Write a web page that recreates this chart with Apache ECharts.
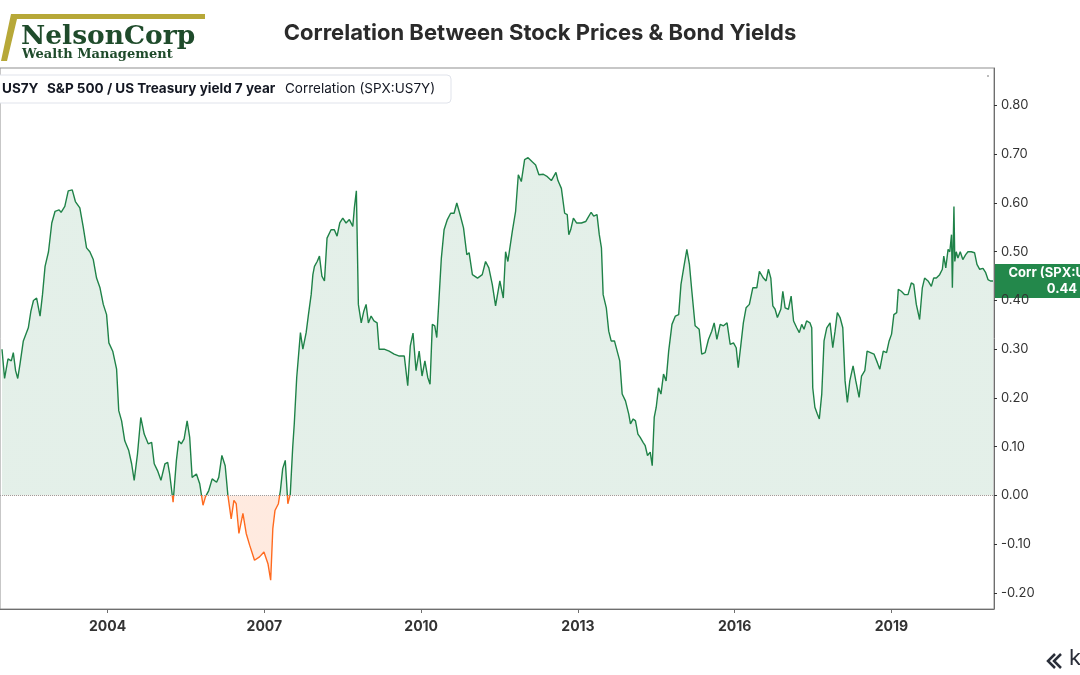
<!DOCTYPE html>
<html><head><meta charset="utf-8">
<script src="https://cdn.jsdelivr.net/npm/echarts@6/dist/echarts.min.js"></script>
<style>html,body{margin:0;padding:0;background:#fff}#c{width:1080px;height:675px}</style>
</head><body><div id="c"></div>
<script>
const chartTitle = 'Correlation Between Stock Prices & Bond Yields';
const legendSymbol = 'US7Y';
const legendName = 'S&P 500 / US Treasury yield 7 year';
const legendStudy = 'Correlation (SPX:US7Y)';
const endLabelName = 'Corr (SPX:US7Y)';
const xTickYears = [2004, 2007, 2010, 2013, 2016, 2019];
const yTicks = [-0.2, -0.1, 0, 0.1, 0.2, 0.3, 0.4, 0.5, 0.6, 0.7, 0.8];

const dates = [
'2001-12-24','2002-01-11','2002-02-04','2002-02-27','2002-03-13','2002-03-29','2002-04-13','2002-04-29','2002-05-22','2002-06-26',
'2002-07-14','2002-08-01','2002-08-23','2002-09-16','2002-10-03','2002-10-21','2002-11-14','2002-12-07','2002-12-30','2003-01-27',
'2003-02-10','2003-03-08','2003-04-01','2003-04-29','2003-05-21','2003-06-21','2003-07-14','2003-08-07','2003-08-30','2003-09-23',
'2003-10-16','2003-11-09','2003-12-02','2003-12-25','2004-01-10','2004-02-06','2004-03-04','2004-03-19','2004-04-08','2004-04-30',
'2004-05-28','2004-06-17','2004-07-05','2004-07-28','2004-08-20','2004-09-13','2004-10-11','2004-11-04','2004-11-22','2004-12-15',
'2005-01-08','2005-02-05','2005-02-24','2005-03-10','2005-04-03','2005-04-26','2005-05-12','2005-05-30','2005-06-19','2005-07-10',
'2005-07-28','2005-08-14','2005-09-13','2005-10-06','2005-10-29','2005-11-15','2005-12-08','2006-01-01','2006-02-01','2006-02-16',
'2006-03-10','2006-04-02','2006-04-21','2006-05-14','2006-06-02','2006-06-18','2006-07-07','2006-08-04','2006-08-27','2006-09-20',
'2006-10-24','2006-11-28','2006-12-29','2007-01-26','2007-02-14','2007-03-01','2007-03-16','2007-04-09','2007-04-23','2007-05-09',
'2007-05-27','2007-06-14','2007-07-01','2007-07-18','2007-07-29','2007-08-15','2007-09-10','2007-09-27','2007-10-20','2007-11-05',
'2007-11-24','2007-12-06','2007-12-17','2008-01-05','2008-01-21','2008-02-07','2008-02-25','2008-03-14','2008-04-11','2008-05-04',
'2008-05-23','2008-06-11','2008-07-02','2008-07-25','2008-08-17','2008-09-10','2008-09-21','2008-10-05','2008-10-19','2008-11-08',
'2008-11-26','2008-12-12','2008-12-28','2009-01-16','2009-02-05','2009-02-27','2009-03-13','2009-04-17','2009-05-22','2009-06-26',
'2009-08-01','2009-09-05','2009-09-29','2009-10-17','2009-11-05','2009-11-26','2009-12-18','2010-01-07','2010-01-27','2010-02-16',
'2010-03-04','2010-03-20','2010-04-06','2010-04-20','2010-05-06','2010-05-22','2010-06-10','2010-07-03','2010-07-26','2010-08-19',
'2010-09-07','2010-09-30','2010-10-24','2010-11-16','2010-12-02','2010-12-25','2011-01-30','2011-03-04','2011-03-27','2011-04-19',
'2011-05-13','2011-06-05','2011-07-05','2011-07-29','2011-08-14','2011-08-30','2011-09-30','2011-10-23','2011-11-11','2011-12-02',
'2011-12-25','2012-01-18','2012-02-18','2012-03-11','2012-04-03','2012-05-04','2012-06-01','2012-06-29','2012-07-31','2012-08-14',
'2012-09-07','2012-09-30','2012-10-18','2012-10-29','2012-11-11','2012-11-30','2012-12-22','2013-01-25','2013-02-24','2013-03-10',
'2013-04-03','2013-04-21','2013-05-14','2013-05-30','2013-06-14','2013-06-26','2013-07-18','2013-08-04','2013-08-21','2013-09-13',
'2013-10-02','2013-10-20','2013-11-06','2013-11-29','2013-12-22','2014-01-03','2014-01-22','2014-02-07','2014-02-24','2014-03-12',
'2014-04-01','2014-04-16','2014-05-02','2014-05-21','2014-06-04','2014-06-18','2014-07-02','2014-07-18','2014-08-04','2014-08-22',
'2014-09-09','2014-09-27','2014-10-20','2014-11-13','2014-12-06','2014-12-22','2015-01-10','2015-02-01','2015-02-19','2015-03-08',
'2015-03-31','2015-04-28','2015-05-16','2015-06-09','2015-07-02','2015-07-25','2015-08-11','2015-08-30','2015-09-22','2015-10-15',
'2015-11-09','2015-12-01','2015-12-24','2016-01-12','2016-01-26','2016-02-14','2016-03-02','2016-03-21','2016-04-13','2016-05-07',
'2016-06-04','2016-06-22','2016-07-20','2016-08-08','2016-08-24','2016-09-10','2016-09-24','2016-10-10','2016-10-26','2016-11-19',
'2016-12-03','2016-12-19','2017-01-11','2017-01-30','2017-02-16','2017-03-10','2017-03-28','2017-04-14','2017-04-30','2017-05-18',
'2017-06-11','2017-06-23','2017-06-30','2017-07-15','2017-08-01','2017-08-15','2017-09-01','2017-09-17','2017-10-06','2017-10-29',
'2017-11-17','2017-12-03','2017-12-19','2018-01-07','2018-01-26','2018-02-11','2018-02-27','2018-03-16','2018-04-08','2018-04-27',
'2018-05-20','2018-06-06','2018-06-29','2018-07-15','2018-08-08','2018-09-01','2018-09-24','2018-10-12','2018-11-05','2018-11-28',
'2018-12-16','2019-01-02','2019-01-18','2019-02-07','2019-02-18','2019-03-11','2019-04-04','2019-04-27','2019-05-20','2019-06-06',
'2019-06-24','2019-07-17','2019-08-05','2019-08-21','2019-09-14','2019-10-07','2019-10-23','2019-11-11','2019-12-04','2019-12-23',
'2020-01-02','2020-01-16','2020-02-01','2020-02-13','2020-02-25','2020-03-02','2020-03-13','2020-03-19','2020-03-29','2020-04-10',
'2020-04-26','2020-05-14','2020-06-03','2020-06-19','2020-07-12','2020-08-04','2020-08-21','2020-09-09','2020-10-02','2020-10-21',
'2020-11-06','2020-11-23','2020-12-11'
];
const corr = [
0.30,0.24,0.28,0.276,0.293,0.256,0.24,0.27,0.317,0.344,
0.378,0.40,0.405,0.368,0.412,0.47,0.50,0.559,0.583,0.586,
0.581,0.593,0.625,0.627,0.603,0.59,0.552,0.508,0.50,0.484,
0.446,0.426,0.392,0.371,0.313,0.296,0.259,0.174,0.153,0.112,
0.092,0.065,0.031,0.085,0.16,0.126,0.106,0.109,0.065,0.051,
0.031,0.065,0.068,0.044,-0.014,0.072,0.112,0.106,0.116,0.153,
0.119,0.037,0.044,0.024,-0.02,-0.003,0.01,0.034,0.027,0.037,
0.082,0.061,0.00,-0.048,-0.01,-0.017,-0.078,-0.037,-0.078,-0.102,
-0.133,-0.126,-0.116,-0.14,-0.174,-0.068,-0.031,-0.017,0.01,0.055,
0.072,-0.017,0.003,0.099,0.147,0.242,0.334,0.30,0.334,0.371,
0.412,0.453,0.47,0.48,0.491,0.45,0.44,0.528,0.545,0.545,
0.532,0.559,0.569,0.559,0.566,0.552,0.59,0.625,0.392,0.354,
0.378,0.392,0.354,0.368,0.358,0.354,0.30,0.30,0.296,0.29,
0.286,0.286,0.225,0.307,0.333,0.256,0.296,0.245,0.276,0.242,
0.228,0.351,0.348,0.324,0.405,0.487,0.545,0.566,0.579,0.579,
0.60,0.576,0.549,0.494,0.498,0.453,0.446,0.453,0.48,0.467,
0.433,0.389,0.44,0.405,0.50,0.48,0.542,0.583,0.658,0.644,
0.689,0.693,0.684,0.678,0.658,0.659,0.654,0.646,0.663,0.646,
0.63,0.579,0.576,0.535,0.545,0.569,0.559,0.559,0.562,0.569,
0.581,0.573,0.576,0.535,0.508,0.412,0.385,0.337,0.317,0.317,
0.296,0.276,0.208,0.194,0.167,0.147,0.157,0.153,0.126,0.119,
0.109,0.102,0.082,0.089,0.061,0.16,0.181,0.221,0.208,0.249,
0.235,0.296,0.351,0.368,0.371,0.433,0.467,0.505,0.474,0.419,
0.348,0.341,0.29,0.293,0.32,0.337,0.354,0.32,0.351,0.348,
0.354,0.31,0.313,0.303,0.262,0.31,0.354,0.385,0.392,0.426,
0.426,0.46,0.446,0.44,0.464,0.446,0.389,0.382,0.365,0.382,
0.419,0.385,0.382,0.409,0.358,0.344,0.334,0.351,0.341,0.358,
0.354,0.344,0.221,0.181,0.167,0.157,0.208,0.317,0.344,0.354,
0.303,0.337,0.375,0.365,0.344,0.235,0.191,0.235,0.266,0.235,
0.201,0.245,0.256,0.296,0.293,0.29,0.273,0.259,0.296,0.293,
0.317,0.331,0.371,0.375,0.423,0.419,0.412,0.412,0.436,0.433,
0.392,0.361,0.426,0.446,0.44,0.429,0.446,0.446,0.453,0.464,
0.491,0.467,0.505,0.50,0.535,0.426,0.593,0.48,0.50,0.487,
0.50,0.484,0.494,0.50,0.50,0.498,0.474,0.464,0.466,0.457,
0.443,0.44,0.44
];

const POS = '#1f8248';
const NEG = '#ff6a1f';
const POS_FILL = 'rgba(31,130,72,0.12)';
const NEG_FILL = 'rgba(255,106,31,0.14)';
const FONT = 'Inter';

const toTime = s => { const p = s.split('-').map(Number); return Date.UTC(p[0], p[1] - 1, p[2]); };
const chart = echarts.init(document.getElementById('c'));
const seriesData = dates.map((d, i) => [toTime(d), corr[i]]);
const xTicks = xTickYears.map(y => Date.UTC(y, 0, 1));

chart.setOption({
  animation: false,
  backgroundColor: '#ffffff',
  title: {
    text: chartTitle, left: 'center', top: 17,
    textStyle: { fontFamily: FONT, fontSize: 22, fontWeight: 'bold', color: '#2b2b2b' }
  },
  grid: { left: -2, right: 86, top: 68, bottom: 66, show: true, borderColor: '#8f8f8f', borderWidth: 1, backgroundColor: 'transparent' },
  xAxis: {
    type: 'value', min: toTime('2001-12-10'), max: toTime('2020-12-18'), scale: true,
    axisLine: { show: true, onZero: false, lineStyle: { color: '#6e6e6e' } },
    axisTick: { show: true, customValues: xTicks, length: 4, lineStyle: { color: '#6e6e6e' } },
    axisLabel: {
      customValues: xTicks, formatter: v => String(new Date(v).getUTCFullYear()),
      fontFamily: FONT, fontSize: 14, fontWeight: 'bold', color: '#333', margin: 11
    },
    splitLine: { show: false }
  },
  yAxis: {
    type: 'value', position: 'right', min: -0.233, max: 0.877,
    axisLine: { show: true, lineStyle: { color: '#6e6e6e' } },
    axisTick: { show: true, customValues: yTicks, length: 3, lineStyle: { color: '#333' } },
    axisLabel: { customValues: yTicks, formatter: v => v.toFixed(2), fontFamily: FONT, fontSize: 13, color: '#333', margin: 7 },
    splitLine: { show: false }
  },
  series: [{
    type: 'line', data: seriesData, showSymbol: false, symbol: 'none',
    lineStyle: { width: 1.4, color: POS }, areaStyle: { color: POS_FILL, opacity: 1 },
    markLine: {
      silent: true, symbol: 'none', label: { show: false },
      lineStyle: { type: 'dotted', color: '#9c9c9c', width: 1 },
      data: [{ yAxis: 0 }]
    }
  }]
});

const y0 = chart.convertToPixel({ yAxisIndex: 0 }, 0);
const split = (a, b) => ({
  type: 'linear', global: true, x: 0, y: y0 - 0.5, x2: 0, y2: y0 + 0.5,
  colorStops: [{ offset: 0, color: a }, { offset: 0.5, color: a }, { offset: 0.5, color: b }, { offset: 1, color: b }]
});
const last = corr[corr.length - 1];
const py = chart.convertToPixel({ yAxisIndex: 0 }, last);

chart.setOption({
  series: [{ lineStyle: { color: split(POS, NEG) }, areaStyle: { color: split(POS_FILL, NEG_FILL), opacity: 1 } }],
  graphic: [
    { type: 'polygon', shape: { points: [[11,14],[205,14],[205,19],[17,19],[7,61],[1,61]] }, style: { fill: '#b7a838' } },
    { type: 'text', style: { text: 'NelsonCorp', x: 21, y: 51, font: 'bold 26.5px "DejaVu Serif"', fill: '#1f4b2b', verticalAlign: 'bottom' } },
    { type: 'text', style: { text: 'Wealth Management', x: 22, y: 61, font: 'bold 13px "DejaVu Serif"', fill: '#1f4b2b', verticalAlign: 'bottom' } },
    { type: 'rect', shape: { x: -6, y: 75, width: 457, height: 28, r: 4 }, style: { fill: '#ffffff', stroke: '#e0e3eb', lineWidth: 1 } },
    { type: 'text', style: { text: legendSymbol, x: 2, y: 89, font: 'bold 13.5px Inter', fill: '#131722', verticalAlign: 'middle' } },
    { type: 'text', style: { text: legendName, x: 47, y: 89, font: 'bold 13.5px Inter', fill: '#131722', verticalAlign: 'middle' } },
    { type: 'text', style: { text: legendStudy, x: 285, y: 89, font: '13.5px Inter', fill: '#131722', verticalAlign: 'middle' } },
    { type: 'rect', shape: { x: 995, y: py - 17, width: 110, height: 34 }, style: { fill: '#23884b' } },
    { type: 'text', style: { text: endLabelName, x: 1062, y: py - 8, font: 'bold 13px Inter', fill: '#fff', align: 'center', verticalAlign: 'middle' } },
    { type: 'text', style: { text: last.toFixed(2), x: 1062, y: py + 8, font: 'bold 13px Inter', fill: '#fff', align: 'center', verticalAlign: 'middle' } },
    { type: 'circle', shape: { cx: 988, cy: 76, r: 0.8 }, style: { fill: '#666' } },
    { type: 'polyline', shape: { points: [[1055,654],[1048,661],[1055,668]] }, style: { stroke: '#2a2e39', lineWidth: 2.5, fill: null } },
    { type: 'polyline', shape: { points: [[1061,654],[1054,661],[1061,668]] }, style: { stroke: '#2a2e39', lineWidth: 2.5, fill: null } },
    { type: 'text', style: { text: 'k', x: 1069, y: 669, font: '22px Inter', fill: '#2a2e39', verticalAlign: 'bottom' } }
  ]
});
</script>
</body></html>
